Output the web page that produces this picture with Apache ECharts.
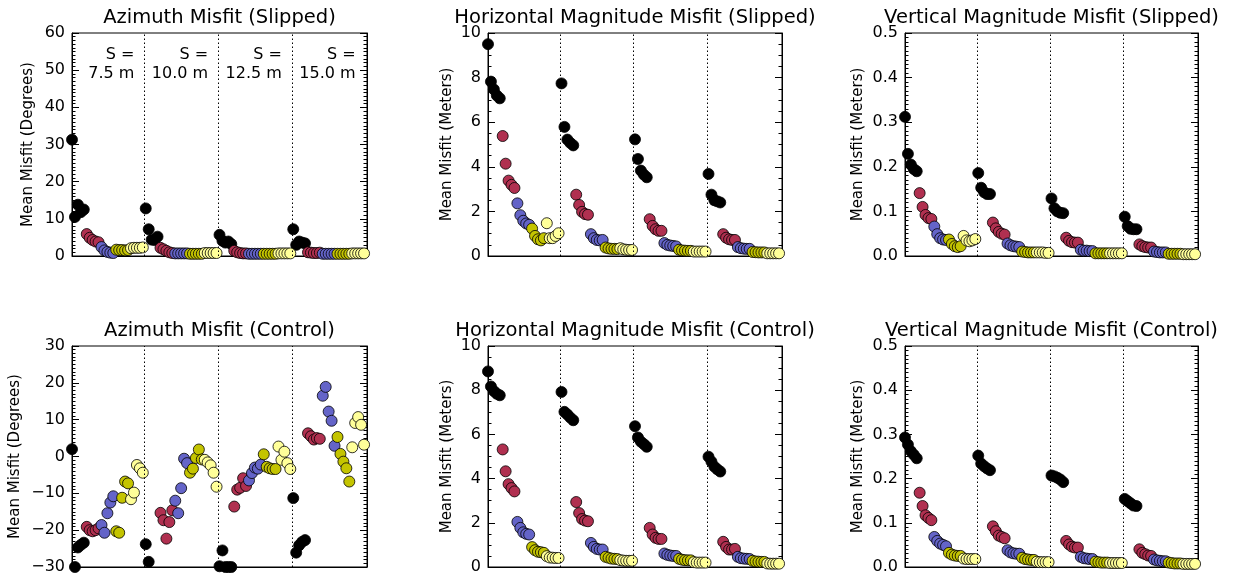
<!DOCTYPE html>
<html>
<head>
<meta charset="utf-8">
<script src="https://cdn.jsdelivr.net/npm/echarts@6/dist/echarts.min.js"></script>
<style>
    html, body { margin: 0; padding: 0; background: #fff; }
    #main { width: 1233px; height: 575px; }
</style>
</head>
<body>
<div id="main"></div>
<script>
// 4 groups (S = 7.5 / 10 / 12.5 / 15 m), each 25 runs: 5 black, 5 red, 5 blue, 5 olive, 5 yellow
var azSlip = [
    [31.3, 10.5, 13.8, 11.8, 12.5, 5.9, 4.9, 4.3, 3.9, 3.7, 2.4, 1.5, 1.1, 0.9, 0.8, 1.7, 1.6, 1.6, 1.5, 1.6, 2.1, 2.2, 2.2, 2.2, 2.3],
    [12.8, 7.2, 4.4, 4.3, 5.2, 2.2, 1.8, 1.4, 1.0, 0.8, 0.7, 0.7, 0.7, 0.7, 0.7, 0.6, 0.6, 0.6, 0.6, 0.6, 0.8, 0.8, 0.8, 0.8, 0.8],
    [5.7, 4.1, 3.6, 3.9, 3.2, 1.4, 1.0, 0.8, 0.7, 0.7, 0.6, 0.6, 0.6, 0.6, 0.6, 0.6, 0.6, 0.6, 0.6, 0.6, 0.7, 0.7, 0.7, 0.7, 0.7],
    [7.2, 3.0, 3.9, 3.6, 3.4, 1.0, 0.9, 0.8, 0.8, 0.9, 0.6, 0.6, 0.6, 0.6, 0.6, 0.6, 0.6, 0.6, 0.6, 0.6, 0.7, 0.7, 0.7, 0.7, 0.7]
];
var hzSlip = [
    [9.5, 7.82, 7.47, 7.2, 7.07, 5.38, 4.14, 3.38, 3.19, 3.05, 2.36, 1.83, 1.58, 1.46, 1.4, 1.23, 0.9, 0.75, 0.7, 0.8, 1.47, 0.8, 0.8, 0.9, 1.02],
    [7.74, 5.79, 5.22, 5.07, 4.96, 2.75, 2.29, 1.98, 1.88, 1.85, 0.98, 0.8, 0.72, 0.7, 0.72, 0.38, 0.34, 0.32, 0.32, 0.31, 0.35, 0.3, 0.28, 0.27, 0.27],
    [5.23, 4.35, 3.83, 3.65, 3.53, 1.65, 1.35, 1.2, 1.13, 1.13, 0.58, 0.5, 0.47, 0.45, 0.43, 0.28, 0.25, 0.24, 0.23, 0.23, 0.2, 0.2, 0.2, 0.2, 0.2],
    [3.68, 2.75, 2.5, 2.45, 2.4, 0.98, 0.82, 0.75, 0.72, 0.72, 0.4, 0.35, 0.33, 0.32, 0.32, 0.18, 0.17, 0.16, 0.16, 0.16, 0.12, 0.12, 0.12, 0.12, 0.12]
];
var vtSlip = [
    [0.312, 0.229, 0.205, 0.195, 0.19, 0.141, 0.11, 0.092, 0.085, 0.083, 0.066, 0.049, 0.04, 0.037, 0.036, 0.037, 0.027, 0.022, 0.02, 0.022, 0.045, 0.035, 0.033, 0.035, 0.038],
    [0.186, 0.153, 0.143, 0.139, 0.139, 0.075, 0.062, 0.054, 0.05, 0.048, 0.028, 0.024, 0.022, 0.021, 0.02, 0.01, 0.009, 0.008, 0.008, 0.008, 0.008, 0.008, 0.008, 0.007, 0.007],
    [0.129, 0.107, 0.1, 0.097, 0.096, 0.041, 0.034, 0.031, 0.03, 0.03, 0.014, 0.012, 0.012, 0.011, 0.011, 0.006, 0.006, 0.006, 0.006, 0.006, 0.006, 0.006, 0.006, 0.006, 0.006],
    [0.088, 0.067, 0.061, 0.06, 0.06, 0.026, 0.022, 0.02, 0.019, 0.019, 0.01, 0.009, 0.008, 0.008, 0.008, 0.005, 0.005, 0.005, 0.005, 0.005, 0.004, 0.004, 0.004, 0.004, 0.004]
];
var azCtrl = [
    [2.0, -30, -24.7, -24.0, -23.4, -19.1, -20.0, -20.3, -20.0, -19.5, -18.6, -20.7, -15.4, -12.5, -10.8, -20.3, -20.7, -11.2, -6.8, -7.3, -11.6, -9.8, -2.3, -3.2, -4.4],
    [-23.8, -28.6, -34, -35, -35, -15.3, -17.3, -22.3, -17.8, -14.6, -12.0, -15.4, -8.6, -0.6, -1.8, -4.4, -3.3, -0.4, 1.9, -0.8, -0.9, -1.6, -2.4, -4.4, -8.2],
    [-29.8, -25.5, -30, -30, -30, -13.6, -9.0, -8.5, -5.9, -8.0, -6.5, -4.5, -3.0, -3.3, -2.2, 0.6, -2.8, -3.2, -3.4, -3.4, 2.7, -0.9, 1.3, -1.8, -3.4],
    [-11.3, -26.1, -24.1, -23.2, -22.7, 6.3, 5.5, 4.6, 5.0, 4.8, 16.5, 18.9, 12.2, 9.7, 2.9, 5.3, 0.7, -1.4, -3.2, -6.8, 2.5, 9.1, 10.7, 8.6, 3.2]
];
var hzCtrl = [
    [8.85, 8.17, 7.96, 7.84, 7.77, 5.32, 4.33, 3.75, 3.57, 3.42, 2.04, 1.77, 1.57, 1.5, 1.47, 0.9, 0.76, 0.69, 0.67, 0.64, 0.49, 0.43, 0.42, 0.41, 0.41],
    [7.92, 7.02, 6.9, 6.76, 6.64, 2.94, 2.44, 2.17, 2.1, 2.07, 1.09, 0.91, 0.82, 0.79, 0.79, 0.46, 0.42, 0.38, 0.37, 0.36, 0.31, 0.29, 0.28, 0.28, 0.28],
    [6.37, 5.86, 5.67, 5.56, 5.44, 1.77, 1.47, 1.32, 1.27, 1.27, 0.61, 0.55, 0.52, 0.5, 0.5, 0.37, 0.33, 0.31, 0.3, 0.3, 0.22, 0.2, 0.2, 0.2, 0.2],
    [4.99, 4.77, 4.54, 4.42, 4.32, 1.14, 0.91, 0.79, 0.79, 0.82, 0.46, 0.4, 0.38, 0.37, 0.36, 0.28, 0.25, 0.24, 0.23, 0.23, 0.16, 0.15, 0.15, 0.15, 0.15]
];
var vtCtrl = [
    [0.293, 0.277, 0.262, 0.254, 0.246, 0.168, 0.138, 0.117, 0.111, 0.106, 0.068, 0.059, 0.053, 0.05, 0.047, 0.032, 0.028, 0.026, 0.025, 0.025, 0.019, 0.018, 0.018, 0.018, 0.018],
    [0.252, 0.234, 0.228, 0.223, 0.219, 0.092, 0.081, 0.071, 0.068, 0.065, 0.038, 0.033, 0.031, 0.03, 0.03, 0.021, 0.018, 0.017, 0.016, 0.016, 0.012, 0.011, 0.011, 0.011, 0.011],
    [0.207, 0.205, 0.202, 0.198, 0.192, 0.059, 0.051, 0.046, 0.044, 0.044, 0.023, 0.02, 0.019, 0.018, 0.018, 0.012, 0.011, 0.01, 0.01, 0.01, 0.009, 0.009, 0.009, 0.009, 0.009],
    [0.154, 0.149, 0.144, 0.139, 0.138, 0.04, 0.032, 0.029, 0.026, 0.025, 0.017, 0.015, 0.014, 0.013, 0.013, 0.01, 0.009, 0.008, 0.008, 0.008, 0.007, 0.007, 0.007, 0.007, 0.007]
];

var titles = [
    'Azimuth Misfit (Slipped)', 'Horizontal Magnitude Misfit (Slipped)', 'Vertical Magnitude Misfit (Slipped)',
    'Azimuth Misfit (Control)', 'Horizontal Magnitude Misfit (Control)', 'Vertical Magnitude Misfit (Control)'
];
var yNames = ['Mean Misfit (Degrees)', 'Mean Misfit (Meters)', 'Mean Misfit (Meters)',
    'Mean Misfit (Degrees)', 'Mean Misfit (Meters)', 'Mean Misfit (Meters)'];
var yMin = [0, 0, 0, -30, 0, 0];
var yMax = [60, 10, 0.5, 30, 10, 0.5];
var yStep = [10, 2, 0.1, 10, 2, 0.1];
var ySub = [10, 4, 10, 10, 4, 10];
var yDec = [0, 0, 1, 0, 0, 1];
var sTop = ['S =', 'S =', 'S =', 'S ='];
var sBottom = ['7.5 m', '10.0 m', '12.5 m', '15.0 m'];
var dividers = [24.5, 49.5, 74.5];

var panels = [azSlip, hzSlip, vtSlip, azCtrl, hzCtrl, vtCtrl];
var colors = ['#000000', '#b03050', '#6464c8', '#c4c400', '#ffff99'];

var FONT = 'DejaVu Sans';
var colLeft = [72, 488, 905];
var colWidth = [295, 294, 293];
var rowTop = [33, 346];
var rowHeight = [223, 221];
var nameGaps = [36, 33, 39, 49, 33, 39];

var chart = echarts.init(document.getElementById('main'));

var grid = [], xAxis = [], yAxis = [], title = [], series = [];

function tickAxis(p, side) {
    return {
        type: 'value', gridIndex: p, position: side, min: yMin[p], max: yMax[p], interval: yStep[p],
        axisLine: {show: true, onZero: false, lineStyle: {color: '#000'}},
        axisTick: {show: true, inside: true, length: 7, lineStyle: {color: '#000', width: 1}},
        minorTick: {show: true, splitNumber: ySub[p], length: 3.5, lineStyle: {color: '#000', width: 1}},
        splitLine: {show: false}
    };
}

panels.forEach(function(vals, p) {
    var col = p % 3, row = Math.floor(p / 3);
    grid.push({
        left: colLeft[col], top: rowTop[row], width: colWidth[col], height: rowHeight[row],
        show: true, borderColor: '#000', borderWidth: 1, backgroundColor: 'transparent'
    });
    title.push({
        text: titles[p],
        left: colLeft[col] + colWidth[col] / 2,
        top: rowTop[row] - 25,
        padding: 0,
        textAlign: 'center',
        textStyle: {fontFamily: FONT, fontSize: 19.5, fontWeight: 'normal', color: '#000'}
    });
    xAxis.push({
        type: 'value', gridIndex: p, min: 0, max: 100,
        axisLine: {show: true, onZero: false, lineStyle: {color: '#000', width: 1}},
        axisTick: {show: false}, axisLabel: {show: false}, splitLine: {show: false}
    });
    var left = tickAxis(p, 'left');
    left.name = yNames[p];
    left.nameLocation = 'middle';
    left.nameGap = nameGaps[p];
    left.nameTextStyle = {fontFamily: FONT, fontSize: 15, color: '#000'};
    left.axisLabel = {
        fontFamily: FONT, fontSize: 16, color: '#000', margin: 7,
        formatter: function(v) { return v.toFixed(yDec[p]).replace('-', '\u2212'); }
    };
    yAxis.push(left);
    var right = tickAxis(p, 'right');
    right.axisLabel = {show: false};
    yAxis.push(right);

    colors.forEach(function(c, ci) {
        var data = [];
        for (var g = 0; g < 4; g++) {
            for (var k = 0; k < 5; k++) {
                data.push([g * 25 + ci * 5 + k, vals[g][ci * 5 + k]]);
            }
        }
        var s = {
            type: 'scatter',
            xAxisIndex: p,
            yAxisIndex: p * 2,
            data: data,
            symbol: 'circle',
            symbolSize: 11,
            clip: true,
            silent: true,
            itemStyle: {color: c, borderColor: '#000', borderWidth: 0.8, opacity: 1}
        };
        if (ci === 0) {
            s.markLine = {
                silent: true,
                symbol: ['none', 'none'],
                label: {show: false},
                lineStyle: {color: '#000', type: [1.5, 2.5], width: 1},
                data: dividers.map(function(d) { return {xAxis: d}; })
            };
            if (p === 0) {
                var edges = dividers.concat([99.5]);
                var marks = [];
                sTop.forEach(function(t, j) {
                    marks.push({name: t, coord: [edges[j] - 3.2, 54.1]});
                    marks.push({name: sBottom[j], coord: [edges[j] - 3.2, 49.0]});
                });
                s.markPoint = {
                    silent: true,
                    symbol: 'circle',
                    symbolSize: 1,
                    itemStyle: {color: 'rgba(0,0,0,0)', borderWidth: 0},
                    label: {
                        show: true, position: 'left', distance: 0,
                        fontFamily: FONT, fontSize: 16, color: '#000',
                        formatter: function(prm) { return prm.name; }
                    },
                    data: marks
                };
            }
        }
        series.push(s);
    });
});

chart.setOption({
    animation: false,
    backgroundColor: '#fff',
    title: title,
    grid: grid,
    xAxis: xAxis,
    yAxis: yAxis,
    series: series
});
</script>
</body>
</html>
